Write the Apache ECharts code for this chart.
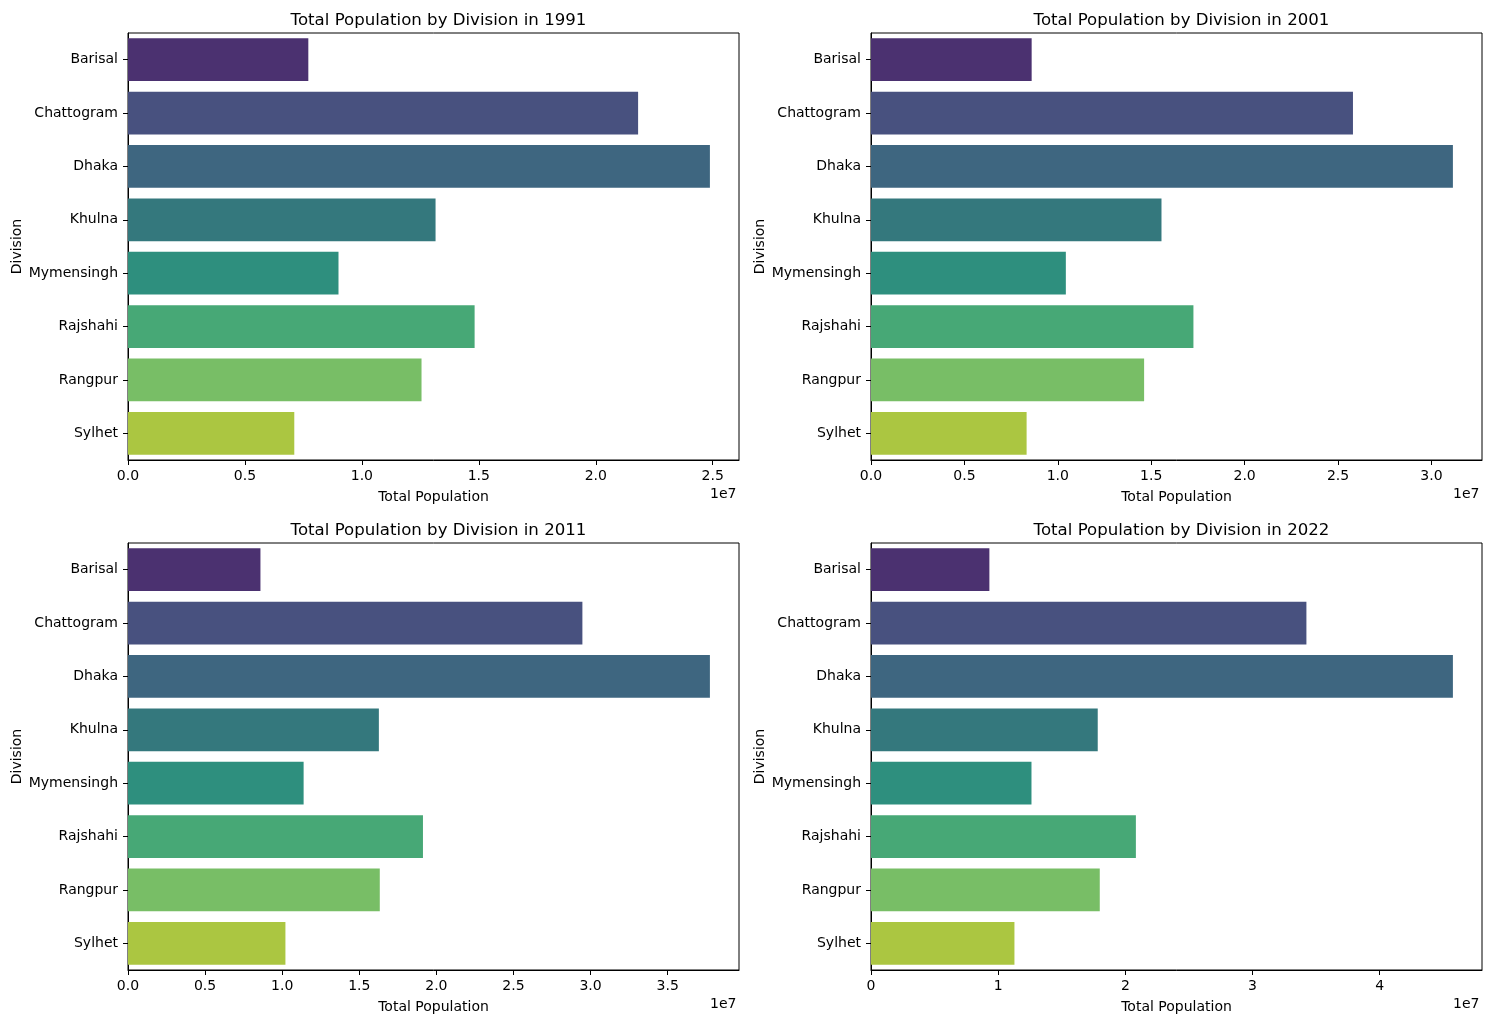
<!DOCTYPE html>
<html>
<head>
<meta charset="utf-8">
<script src="https://cdn.jsdelivr.net/npm/echarts@6/dist/echarts.min.js"></script>
<style>
    html, body { margin: 0; padding: 0; background: #fff; }
    #chart { width: 1489px; height: 1023px; }
</style>
</head>
<body>
<div id="chart"></div>
<script>
const divisions = ['Barisal', 'Chattogram', 'Dhaka', 'Khulna', 'Mymensingh', 'Rajshahi', 'Rangpur', 'Sylhet'];
const years = ['1991', '2001', '2011', '2022'];
const pop1991 = [7710000, 21810000, 24880000, 13150000, 9000000, 14820000, 12550000, 7110000];
const pop2001 = [8600000, 25800000, 31150000, 15550000, 10430000, 17260000, 14620000, 8330000];
const pop2011 = [8590000, 29470000, 37740000, 16270000, 11390000, 19130000, 16330000, 10210000];
const pop2022 = [9310000, 34240000, 45760000, 17830000, 12620000, 20830000, 17990000, 11280000];
const tickStep = [5000000, 5000000, 5000000, 10000000];
const barColors = ['#4b3170', '#48517f', '#3e6680', '#34787d', '#2e8f7e', '#47a876', '#78be66', '#abc641'];

const popByYear = [pop1991, pop2001, pop2011, pop2022];

// subplot boxes (left, top)
const boxes = [
    {left: 128, top: 33},
    {left: 871, top: 33},
    {left: 128, top: 543},
    {left: 871, top: 543}
];
const plotW = 611, plotH = 427;
const font = 'DejaVu Sans';

const chart = echarts.init(document.getElementById('chart'));

const grids = [], xAxes = [], yAxes = [], series = [], titles = [], graphics = [];

boxes.forEach((b, i) => {
    grids.push({
        left: b.left, top: b.top, width: plotW, height: plotH,
        show: true, borderColor: '#000', borderWidth: 1, backgroundColor: '#fff'
    });
    const step = tickStep[i];
    xAxes.push({
        type: 'value',
        gridIndex: i,
        min: 0,
        max: v => v.max * 1.05,
        interval: step,
        splitLine: { show: false },
        axisLine: { show: true, lineStyle: { color: '#000', width: 1 } },
        axisTick: { show: true, length: 5, lineStyle: { color: '#000' } },
        axisLabel: {
            color: '#000', fontSize: 14, fontFamily: font, margin: 9,
            showMaxLabel: false,
            formatter: function(v) {
                if (Math.abs(v / step - Math.round(v / step)) > 1e-6) return '';
                return step === 10000000 ? String(Math.round(v / 1e7)) : (v / 1e7).toFixed(1);
            }
        },
        name: 'Total Population',
        nameLocation: 'middle',
        nameGap: 30,
        nameTextStyle: { color: '#000', fontSize: 14, fontFamily: font }
    });
    yAxes.push({
        type: 'category',
        gridIndex: i,
        data: divisions,
        inverse: true,
        axisLine: { show: true, lineStyle: { color: '#000', width: 1 } },
        axisTick: { show: true, length: 5, alignWithLabel: true, lineStyle: { color: '#000' } },
        axisLabel: { color: '#000', fontSize: 14, fontFamily: font, margin: 10 },
        name: 'Division',
        nameLocation: 'middle',
        nameGap: 104,
        nameTextStyle: { color: '#000', fontSize: 14, fontFamily: font }
    });
    series.push({
        type: 'bar',
        xAxisIndex: i,
        yAxisIndex: i,
        barCategoryGap: '20%',
        data: popByYear[i].map((v, k) => ({ value: v, itemStyle: { color: barColors[k] } })),
        silent: true
    });
    titles.push({
        text: 'Total Population by Division in ' + years[i],
        left: b.left + plotW / 2,
        top: b.top - 26,
        textAlign: 'center',
        textStyle: { color: '#000', fontSize: 16.6, fontWeight: 'normal', fontFamily: font }
    });
    graphics.push({
        type: 'text',
        left: b.left + plotW - 29,
        top: b.top + plotH + 27,
        style: { text: '1e7', fill: '#000', fontSize: 14, fontFamily: font }
    });
});

chart.setOption({
    backgroundColor: '#fff',
    animation: false,
    title: titles,
    grid: grids,
    xAxis: xAxes,
    yAxis: yAxes,
    series: series,
    graphic: graphics
});
</script>
</body>
</html>
